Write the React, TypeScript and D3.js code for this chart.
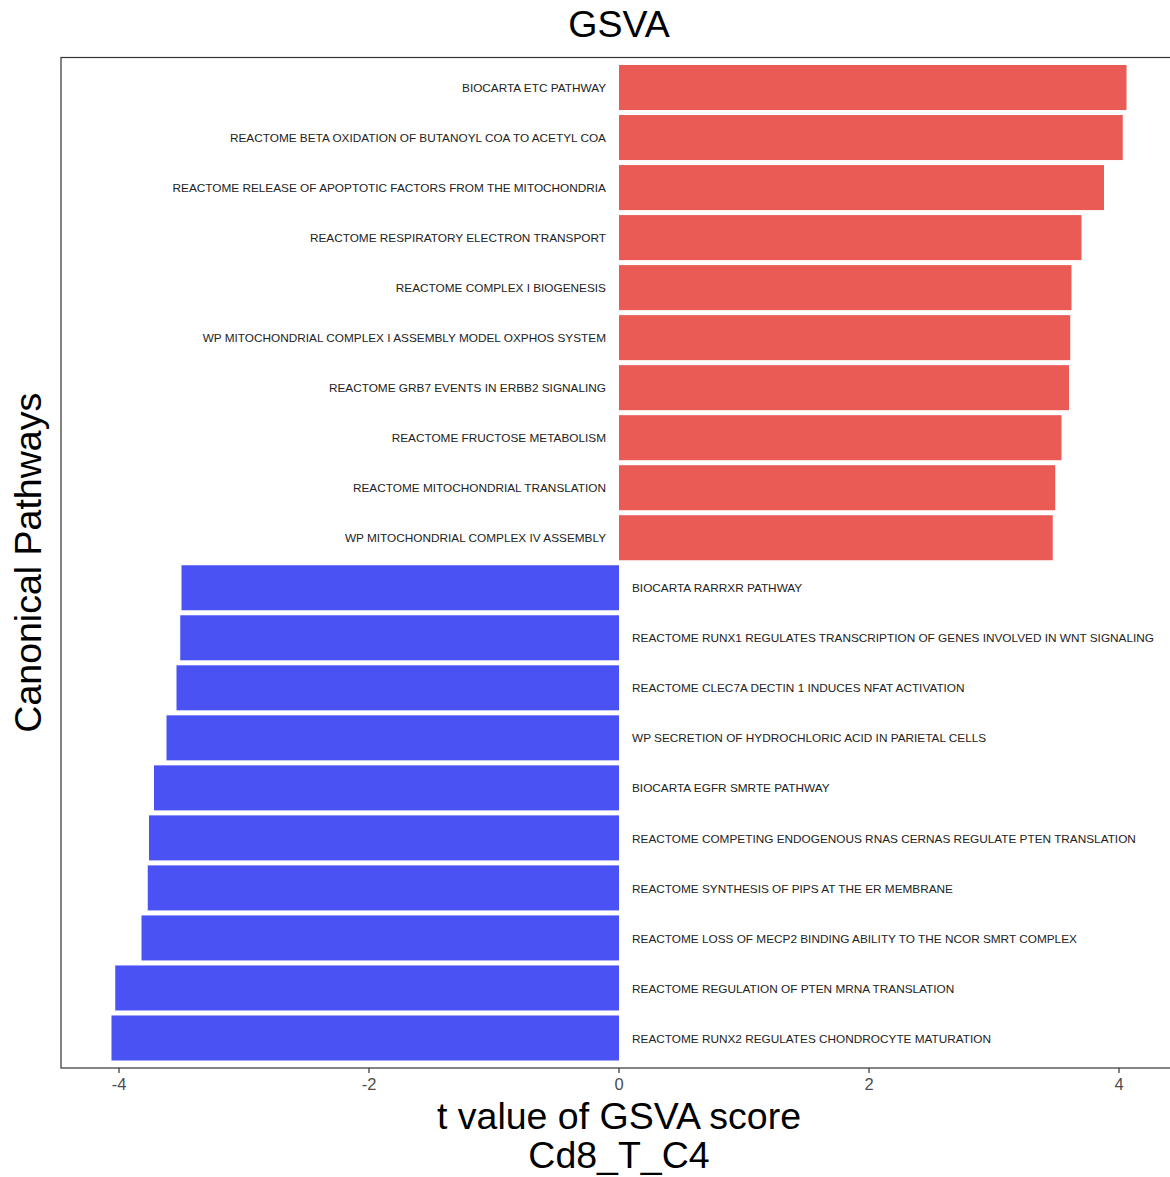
import React from "react";
import * as d3 from "d3";

const pathways = [
  "BIOCARTA ETC PATHWAY",
  "REACTOME BETA OXIDATION OF BUTANOYL COA TO ACETYL COA",
  "REACTOME RELEASE OF APOPTOTIC FACTORS FROM THE MITOCHONDRIA",
  "REACTOME RESPIRATORY ELECTRON TRANSPORT",
  "REACTOME COMPLEX I BIOGENESIS",
  "WP MITOCHONDRIAL COMPLEX I ASSEMBLY MODEL OXPHOS SYSTEM",
  "REACTOME GRB7 EVENTS IN ERBB2 SIGNALING",
  "REACTOME FRUCTOSE METABOLISM",
  "REACTOME MITOCHONDRIAL TRANSLATION",
  "WP MITOCHONDRIAL COMPLEX IV ASSEMBLY",
  "BIOCARTA RARRXR PATHWAY",
  "REACTOME RUNX1 REGULATES TRANSCRIPTION OF GENES INVOLVED IN WNT SIGNALING",
  "REACTOME CLEC7A DECTIN 1 INDUCES NFAT ACTIVATION",
  "WP SECRETION OF HYDROCHLORIC ACID IN PARIETAL CELLS",
  "BIOCARTA EGFR SMRTE PATHWAY",
  "REACTOME COMPETING ENDOGENOUS RNAS CERNAS REGULATE PTEN TRANSLATION",
  "REACTOME SYNTHESIS OF PIPS AT THE ER MEMBRANE",
  "REACTOME LOSS OF MECP2 BINDING ABILITY TO THE NCOR SMRT COMPLEX",
  "REACTOME REGULATION OF PTEN MRNA TRANSLATION",
  "REACTOME RUNX2 REGULATES CHONDROCYTE MATURATION",
];

const tValues = [
  4.06, 4.03, 3.88, 3.7, 3.62, 3.61, 3.6, 3.54, 3.49, 3.47,
  -3.5, -3.51, -3.54, -3.62, -3.72, -3.76, -3.77, -3.82, -4.03, -4.06,
];

const xTicks = [-4, -2, 0, 2, 4];

const W = 1170;
const H = 1177;
const panel = { left: 61, top: 57.5, bottom: 1068, right: 1178 };

export default function App() {
  const x = d3.scaleLinear().domain([-4, 4]).range([119, 1119]);
  const y = d3
    .scaleBand<string>()
    .domain(pathways)
    .range([panel.top, panel.bottom])
    .paddingInner(0.1)
    .paddingOuter(0.15);

  const font = "Arial, 'Liberation Sans', Helvetica, sans-serif";
  const x0 = x(0);

  return (
    <svg
      width={W}
      height={H}
      style={{ position: "absolute", left: 0, top: 0, display: "block", background: "#fff" }}
      fontFamily={font}
    >
      <rect x={0} y={0} width={W} height={H} fill="#fff" />
      {pathways.map((p, i) => {
        const v = tValues[i];
        const y0 = y(p)!;
        return (
          <rect
            key={p}
            x={Math.min(x(v), x0)}
            y={y0}
            width={Math.abs(x(v) - x0)}
            height={y.bandwidth()}
            fill={v > 0 ? "#EB5B55" : "#4A52F4"}
          />
        );
      })}
      {pathways.map((p, i) => {
        const v = tValues[i];
        const cy = y(p)! + y.bandwidth() / 2;
        return (
          <text
            key={"l" + p}
            x={v > 0 ? x0 - 13 : x0 + 13}
            y={cy + 0.5}
            dy="0.35em"
            textAnchor={v > 0 ? "end" : "start"}
            fontSize={11.8}
            fill="#222"
          >
            {p}
          </text>
        );
      })}
      <rect
        x={panel.left}
        y={panel.top}
        width={panel.right - panel.left}
        height={panel.bottom - panel.top}
        fill="none"
        stroke="#333"
        strokeWidth={1.2}
      />
      {xTicks.map((t) => (
        <g key={t}>
          <line x1={x(t)} x2={x(t)} y1={panel.bottom} y2={panel.bottom + 5} stroke="#333" strokeWidth={1.2} />
          <text x={x(t)} y={1090} textAnchor="middle" fontSize={16.5} fill="#4d4d4d">
            {t < 0 ? `-${Math.abs(t)}` : t}
          </text>
        </g>
      ))}
      <text x={619} y={37} textAnchor="middle" fontSize={37.5} fill="#000">
        GSVA
      </text>
      <text x={619} y={1129} textAnchor="middle" fontSize={37.5} fill="#000">
        t value of GSVA score
      </text>
      <text x={619} y={1168} textAnchor="middle" fontSize={37.5} fill="#000">
        Cd8_T_C4
      </text>
      <text
        transform={`translate(41, ${(panel.top + panel.bottom) / 2}) rotate(-90)`}
        textAnchor="middle"
        fontSize={37.5}
        fill="#000"
      >
        Canonical Pathways
      </text>
    </svg>
  );
}
